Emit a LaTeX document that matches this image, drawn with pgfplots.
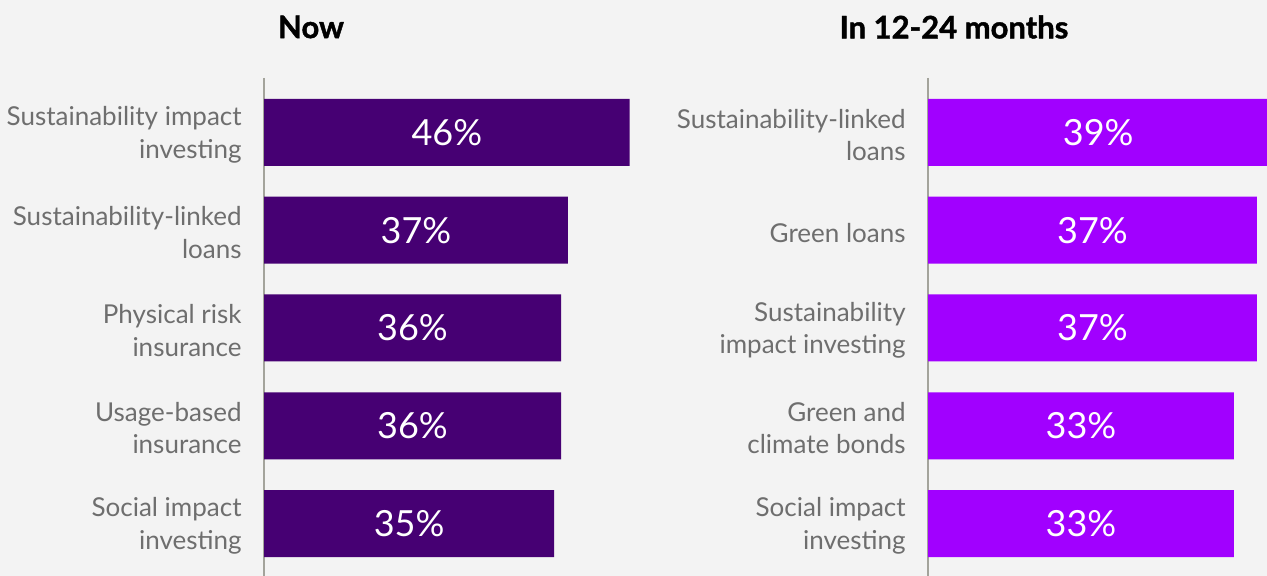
\documentclass[border=0pt]{standalone}
\usepackage{pgfplots}
\pgfplotsset{compat=1.18}
\usepackage{pgfplotstable}
\usepackage{fontspec}
\setmainfont{Lato}
\newfontfamily\heavy[BoldFeatures={FakeBold=1.3}]{Lato}
\definecolor{bg}{HTML}{F3F3F3}
\definecolor{nowc}{HTML}{460073}
\definecolor{futc}{HTML}{A100FF}
\definecolor{axc}{HTML}{A3A39B}
\definecolor{lab}{HTML}{6E6E6E}

\pgfplotstableread{
idx v
0 46
1 37
2 36
3 36
4 35
}\nowdata
\pgfplotstableread{
idx v
0 39
1 37
2 37
3 33
4 33
}\futdata

\pgfplotsset{panel/.style={
  xbar, scale only axis, height=249pt,
  ymin=-0.5575, ymax=4.537, y dir=reverse,
  axis x line=none, axis y line*=left,
  y axis line style={axc, line width=1.1pt},
  xmin=0, bar width=33.5pt, ytick={0,...,4}, major tick length=0pt,
  yticklabel style={align=right, font=\fontsize{13}{16.3}\selectfont, text=lab, inner sep=0pt, xshift=-11pt, yshift=-1.2pt},
}}

\begin{document}
\begin{tikzpicture}
\fill[bg] (0,0) rectangle (633.5pt,288pt);
\useasboundingbox (0,0) rectangle (633.5pt,288pt);

\begin{axis}[panel, at={(132pt,0pt)}, anchor=south west,
  width=205.8pt, xmax=60,
  yticklabels={{Sustainability impact\\investing},{Sustainability-linked\\loans},{Physical risk\\insurance},{Usage-based\\insurance},{Social impact\\investing}}]
\addplot[fill=nowc, draw=none,
  visualization depends on={\thisrow{v} \as \rv},
  nodes near coords={\pgfmathprintnumber[assume math mode=true,fixed,precision=0]{\rv}\%},
  every node near coord/.append style={anchor=center, text=white, font=\fontsize{18}{21}\selectfont, xshift={-(\rv+7.3)*1.715pt}}]
  table[x expr=\thisrow{v}+7.3, y=idx]{\nowdata};
\end{axis}

\begin{axis}[panel, at={(464pt,0pt)}, anchor=south west,
  width=170.49pt, xmax=59.3,
  yticklabels={{Sustainability-linked\\loans},{Green loans},{Sustainability\\impact investing},{Green and\\climate bonds},{Social impact\\investing}}]
\addplot[fill=futc, draw=none,
  visualization depends on={\thisrow{v} \as \rv},
  nodes near coords={\pgfmathprintnumber[assume math mode=true,fixed,precision=0]{\rv}\%},
  every node near coord/.append style={anchor=center, text=white, font=\fontsize{18}{21}\selectfont, xshift={-(\rv+20.2)*1.4375pt}}]
  table[x expr=\thisrow{v}+20.2, y=idx]{\futdata};
\end{axis}

\node[font=\heavy\bfseries\fontsize{15.5}{18}\selectfont] at (155.5pt,274.5pt) {Now};
\node[font=\heavy\bfseries\fontsize{15.5}{18}\selectfont] at (477pt,274.5pt) {In 12-24 months};
\end{tikzpicture}
\end{document}
